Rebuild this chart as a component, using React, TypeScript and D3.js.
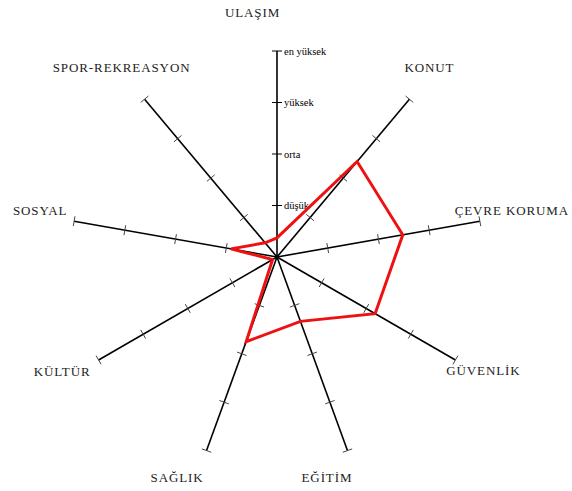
import React, { useEffect, useRef } from 'react'
import * as d3 from 'd3'

// Categories (clockwise from top)
const categories = [
  'ULAŞIM',
  'KONUT',
  'ÇEVRE KORUMA',
  'GÜVENLİK',
  'EĞİTİM',
  'SAĞLIK',
  'KÜLTÜR',
  'SOSYAL',
  'SPOR-REKREASYON',
]

// Series values, scale 0..4
const values = [0.37, 2.42, 2.48, 2.2, 1.33, 1.75, 0.1, 0.91, 0.36]

// Level tick labels
const levels = [1, 2, 3, 4]
const levelLabels = ['düşük', 'orta', 'yüksek', 'en yüksek']

// label offsets from the axis ends (layout only)
const labelOffset: [number, number][] = [
  [-24.5, -34],
  [20, -27],
  [32, -6],
  [28, 15],
  [-20.5, 31],
  [-29.5, 31],
  [-36.5, 16],
  [-34, -6],
  [-23, -27],
]

const width = 572
const height = 491
const cx = 277
const cy = 257
const radius = 206
const serif = "'Liberation Serif', 'Times New Roman', Times, serif"

export default function App() {
  const ref = useRef<SVGSVGElement>(null)

  useEffect(() => {
    const svg = d3.select(ref.current)
    svg.selectAll('*').remove()

    const r = d3.scaleLinear().domain([0, 4]).range([0, radius])
    const angle = d3
      .scaleLinear()
      .domain([0, categories.length])
      .range([0, 2 * Math.PI])

    const g = svg.append('g').attr('transform', `translate(${cx},${cy})`)

    const px = (i: number, v: number) => Math.sin(angle(i)) * r(v)
    const py = (i: number, v: number) => -Math.cos(angle(i)) * r(v)

    // axes
    categories.forEach((c, i) => {
      g.append('line')
        .attr('x1', 0)
        .attr('y1', 0)
        .attr('x2', px(i, 4))
        .attr('y2', py(i, 4))
        .attr('stroke', '#000')
        .attr('stroke-width', 1.6)

      // ticks
      const a = angle(i)
      const tx = Math.cos(a) * 5
      const ty = Math.sin(a) * 5
      levels.forEach((lv) => {
        const x = px(i, lv)
        const y = py(i, lv)
        g.append('line')
          .attr('x1', x - tx)
          .attr('y1', y - ty)
          .attr('x2', x + tx)
          .attr('y2', y + ty)
          .attr('stroke', i === 0 ? '#000' : '#444')
          .attr('stroke-width', 1)
      })

      // category label
      const [dx, dy] = labelOffset[i]
      g.append('text')
        .text(c)
        .attr('x', px(i, 4) + dx)
        .attr('y', py(i, 4) + dy)
        .attr('text-anchor', 'middle')
        .style('font-family', serif)
        .style('font-size', '13px')
        .style('letter-spacing', '0.9px')
        .attr('fill', '#222')
    })

    // level labels on the first axis
    levels.forEach((lv, k) => {
      g.append('text')
        .text(levelLabels[k])
        .attr('x', 7)
        .attr('y', py(0, lv) + 3.5)
        .style('font-family', serif)
        .style('font-size', '10.5px')
        .attr('fill', '#000')
    })

    // data polygon
    const line = d3
      .lineRadial<number>()
      .angle((d, i) => angle(i))
      .radius((d) => r(d))
      .curve(d3.curveLinearClosed)

    g.append('path')
      .attr('d', line(values))
      .attr('fill', 'none')
      .attr('stroke', '#ee1111')
      .attr('stroke-width', 3)
      .attr('stroke-linejoin', 'miter')
  }, [])

  return (
    <svg
      ref={ref}
      width={width}
      height={height}
      style={{ position: 'absolute', left: 0, top: 0, background: '#fff' }}
    />
  )
}
